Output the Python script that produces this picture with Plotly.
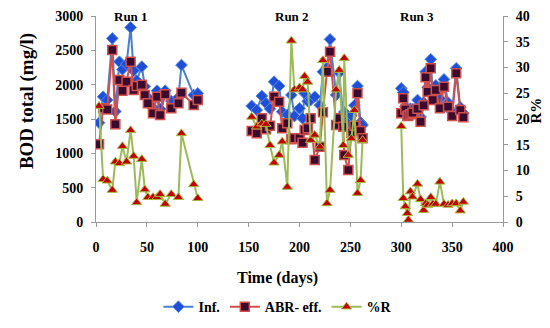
import plotly.graph_objects as go

# ---------------- data ----------------
days1 = [3, 7, 11, 16, 19, 23, 26, 30, 34, 37, 40, 45, 48, 51, 56, 60, 63, 68, 74, 81, 84, 96, 100]
inf1 = [1446, 1824, 1776, 2674, 1610, 2334, 2223, 2300, 2834, 2203, 2060, 2262, 1973, 1815, 1662, 1912, 1647, 1912, 1762, 1815, 2286, 1849, 1873]
abr1 = [1131, 1655, 1640, 2504, 1422, 2067, 1912, 2043, 2334, 1922, 1980, 2000, 1849, 1728, 1582, 1824, 1558, 1859, 1655, 1728, 1883, 1704, 1776]
r1 = [22.5, 8.3, 8.0, 6.2, 11.7, 11.4, 14.7, 11.7, 17.8, 12.8, 3.8, 12.2, 6.3, 4.8, 4.8, 4.8, 5.4, 3.5, 5.4, 4.8, 17.2, 7.3, 4.6]

days2 = [153, 158, 163, 167, 171, 175, 180, 183, 188, 192, 195, 200, 203, 205, 208, 211, 215, 220, 223, 227, 230, 236, 239, 243, 244, 248, 251, 254, 257, 260, 262]
inf2 = [1690, 1630, 1835, 1730, 1650, 2043, 1980, 1606, 1560, 1849, 1543, 1655, 1510, 1874, 1760, 1776, 1824, 1700, 2188, 2250, 2660, 1850, 2174, 1533, 1600, 1446, 1550, 1700, 1980, 1450, 1412]
abr2 = [1325, 1291, 1510, 1350, 1400, 1824, 1752, 1364, 1437, 1204, 1218, 1218, 1155, 1340, 1364, 1510, 903, 1096, 1600, 2188, 2480, 1412, 1510, 1388, 976, 757, 1300, 1400, 1874, 1325, 1218]
r2 = [20.4, 18.5, 19.1, 19.0, 14.9, 11.5, 13.0, 15.6, 6.8, 35.2, 25.7, 26.1, 25.7, 28.3, 27.2, 15.9, 16.9, 14.6, 31.4, 3.6, 6.2, 25.7, 29.5, 14.9, 31.8, 13.0, 16.2, 21.7, 5.6, 8.1, 15.9]

days3 = [300, 302, 304, 306, 307, 309, 311, 316, 319, 322, 324, 326, 329, 331, 334, 338, 342, 346, 350, 354, 358, 361]
inf3 = [1946, 1888, 1680, 1580, 1560, 1650, 1640, 1776, 1530, 1740, 2188, 1960, 2369, 1850, 1990, 1800, 2077, 1740, 1600, 2238, 1670, 1585]
abr3 = [1582, 1801, 1640, 1543, 1550, 1570, 1592, 1650, 1461, 1700, 2107, 1897, 2238, 1776, 1922, 1655, 1970, 1679, 1543, 2165, 1631, 1524]
r3 = [18.6, 4.6, 3.0, 1.7, 0.4, 5.9, 4.9, 7.4, 4.4, 2.3, 3.6, 3.3, 4.8, 3.5, 3.5, 7.8, 3.5, 3.3, 3.6, 3.6, 2.2, 3.9]

run_labels = ["Run 1", "Run 2", "Run 3"]
run_label_days = [34, 193, 315]

x_ticks = [0, 50, 100, 150, 200, 250, 300, 350, 400]


def join(*parts):
    out = []
    for i, p in enumerate(parts):
        if i:
            out.append(None)
        out.extend(p)
    return out


days = join(days1, days2, days3)
inf = join(inf1, inf2, inf3)
abr = join(abr1, abr2, abr3)
rr = join(r1, r2, r3)

FONT = "Liberation Serif"
TICKF = dict(family=FONT, size=14, color="black", weight="bold")

fig = go.Figure()
fig.add_trace(go.Scatter(
    x=days, y=inf, name="Inf.", mode="lines+markers", connectgaps=False,
    line=dict(color="#4a7fd0", width=2),
    marker=dict(symbol="diamond", size=9, color="#1f4fd6", line=dict(color="#5b8be0", width=1)),
))
fig.add_trace(go.Scatter(
    x=days, y=abr, name="ABR- eff.", mode="lines+markers", connectgaps=False,
    line=dict(color="#d0504d", width=2),
    marker=dict(symbol="square", size=9, color="#3a0b2e", line=dict(color="#d0504d", width=1.5)),
))
fig.add_trace(go.Scatter(
    x=days, y=rr, name="%R", mode="lines+markers", connectgaps=False, yaxis="y2",
    line=dict(color="#9bbb59", width=2),
    marker=dict(symbol="triangle-up", size=9, color="#c00000", line=dict(color="#a8b840", width=1)),
))

for lab, d in zip(run_labels, run_label_days):
    fig.add_annotation(x=d, y=3000, yanchor="middle", text=lab, showarrow=False, xref="x", yref="y",
                       font=dict(family=FONT, size=13, color="black", weight="bold"))

# axis titles as annotations (positions as in the reference)
fig.add_annotation(text="BOD total (mg/l)", xref="paper", yref="paper", x=-0.1695, y=0.587,
                   textangle=-90, showarrow=False, xanchor="center", yanchor="middle",
                   font=dict(family=FONT, size=19, color="black", weight="bold"))
fig.add_annotation(text="Time (days)", xref="paper", yref="paper", x=0.447, y=-0.272,
                   showarrow=False, xanchor="center", yanchor="middle",
                   font=dict(family=FONT, size=16, color="black", weight="bold"))
fig.add_annotation(text="R%", xref="paper", yref="paper", x=1.08, y=0.539,
                   textangle=-90, showarrow=False, xanchor="center", yanchor="middle",
                   font=dict(family=FONT, size=15, color="black", weight="bold"))

axis_common = dict(showline=True, linecolor="#9a9a9a", linewidth=1, showgrid=False,
                   ticks="outside", ticklen=4, tickcolor="#9a9a9a", zeroline=False,
                   automargin=False, tickfont=TICKF)

# the page body has an 8px margin: figure is 542x320 so it fills the 550x328 window
fig.update_layout(
    width=542, height=320,
    margin=dict(l=88, r=47, t=8, b=106, autoexpand=False),
    paper_bgcolor="white", plot_bgcolor="white",
    font=dict(family=FONT, size=14, color="black", weight="bold"),
    xaxis=dict(range=[0, 400], tickvals=x_ticks, ticklabelstandoff=8, **axis_common),
    yaxis=dict(range=[0, 3000], dtick=500, ticklabelstandoff=5, **axis_common),
    yaxis2=dict(range=[0, 40], dtick=5, overlaying="y", side="right", ticklabelstandoff=5,
                **axis_common),
    showlegend=True,
    legend=dict(orientation="h", x=0.447, xanchor="center", y=-0.413, yanchor="middle",
                font=dict(family=FONT, size=14, color="black", weight="bold"),
                bgcolor="rgba(0,0,0,0)"),
)

fig.write_html("out.html")
